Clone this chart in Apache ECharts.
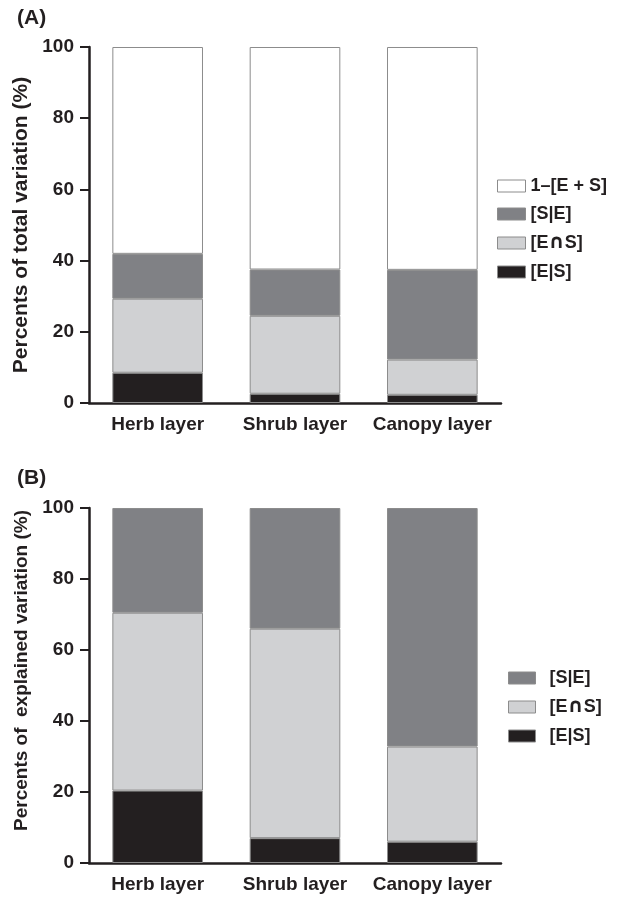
<!DOCTYPE html>
<html lang="en">
<head>
<meta charset="UTF-8">
<script src="https://cdn.jsdelivr.net/npm/echarts@6/dist/echarts.min.js"></script>
<title>Variation partitioning</title>
<style>
  html, body { margin: 0; padding: 0; background: #fff; }
  #chart { width: 619px; height: 899px; }
</style>
</head>
<body>
<div id="chart"></div>
<script>
var layers = ['Herb layer', 'Shrub layer', 'Canopy layer'];
var yTicks = [0, 20, 40, 60, 80, 100];

// (A) percents of total variation
var totalES = [8.5, 2.6, 2.3];
var totalEnS = [20.8, 21.9, 9.9];
var totalSE = [12.6, 13.0, 25.2];
var totalRest = [58.1, 62.5, 62.6];

// (B) percents of explained variation
var explES = [20.4, 7.0, 6.0];
var explEnS = [50.1, 59.0, 26.8];
var explSE = [29.5, 34.0, 67.2];

var names = ['1\u2013[E + S]', '[S|E]', '[E\u2229S]', '[E|S]'];
var colors = { rest: '#ffffff', se: '#808185', ens: '#d0d1d3', es: '#231f20' };

var font = 'Liberation Sans, Arial, sans-serif';
var ink = '#231f20';
var myChart = echarts.init(document.getElementById('chart'));

function bar(name, data, color, idx) {
  return {
    name: name,
    type: 'bar',
    stack: 's' + idx,
    xAxisIndex: idx,
    yAxisIndex: idx,
    barWidth: '66%',
    data: data,
    itemStyle: { color: color, borderColor: '#8c8c8c', borderWidth: 1 },
    emphasis: { disabled: true }
  };
}

function xAx(idx) {
  return {
    type: 'category',
    gridIndex: idx,
    data: layers,
    axisLine: { lineStyle: { color: ink, width: 2.5 } },
    axisTick: { alignWithLabel: true, length: 7, lineStyle: { color: ink, width: 2 } },
    axisLabel: { interval: 0, color: ink, fontFamily: font, fontWeight: 'bold', fontSize: 19, margin: 12 }
  };
}

function yAx(idx, title, size, pad) {
  return {
    type: 'value',
    gridIndex: idx,
    min: 0, max: 100, interval: 20,
    name: title,
    nameLocation: 'middle',
    nameGap: 55,
    nameTextStyle: { color: ink, fontFamily: font, fontWeight: 'bold', fontSize: size, padding: pad },
    splitLine: { show: false },
    axisLine: { show: true, lineStyle: { color: ink, width: 2.5 } },
    axisTick: { show: true, length: 9, lineStyle: { color: ink, width: 2 } },
    axisLabel: { color: ink, fontFamily: font, fontWeight: 'bold', fontSize: 19, margin: 15 }
  };
}

// the cap sign is tiny in Liberation Sans, so draw it with DejaVu
function legendFmt(name) {
  return name.replace('\u2229', '{c|\u2229}');
}

function legendText(pad) {
  return {
    fontFamily: font, fontWeight: 'bold', fontSize: 18, color: ink, padding: pad,
    rich: { c: { fontFamily: 'DejaVu Sans', fontWeight: 'bold', fontSize: 20, color: ink } }
  };
}

var option = {
  backgroundColor: '#fff',
  animation: false,
  title: [
    { text: '(A)', left: 12, top: 3, textStyle: { fontFamily: font, fontWeight: 'bold', fontSize: 21, color: ink } },
    { text: '(B)', left: 12, top: 463, textStyle: { fontFamily: font, fontWeight: 'bold', fontSize: 21, color: ink } }
  ],
  grid: [
    { left: 89, right: 118, top: 47, height: 356 },
    { left: 89, right: 118, top: 508, height: 355 }
  ],
  legend: [
    {
      data: names, orient: 'vertical', left: 492, top: 172, itemGap: 10,
      itemWidth: 28, itemHeight: 12, selectedMode: false, formatter: legendFmt,
      icon: 'rect', itemStyle: { borderColor: '#8c8c8c', borderWidth: 1 },
      textStyle: legendText([0, 0, 0, 0])
    },
    {
      data: names.slice(1), orient: 'vertical', left: 503, top: 664, itemGap: 10,
      itemWidth: 27, itemHeight: 12, selectedMode: false, formatter: legendFmt,
      icon: 'rect', itemStyle: { borderColor: '#8c8c8c', borderWidth: 1 },
      textStyle: legendText([0, 0, 0, 9])
    }
  ],
  xAxis: [xAx(0), xAx(1)],
  yAxis: [
    yAx(0, 'Percents of total variation (%)', 21, [0, 0, 0, 0]),
    yAx(1, 'Percents of  explained variation (%)', 19, [0, 0, 0, 30])
  ],
  series: [
    bar(names[3], totalES, colors.es, 0),
    bar(names[2], totalEnS, colors.ens, 0),
    bar(names[1], totalSE, colors.se, 0),
    bar(names[0], totalRest, colors.rest, 0),
    bar(names[3], explES, colors.es, 1),
    bar(names[2], explEnS, colors.ens, 1),
    bar(names[1], explSE, colors.se, 1)
  ]
};
myChart.setOption(option);
</script>
</body>
</html>
